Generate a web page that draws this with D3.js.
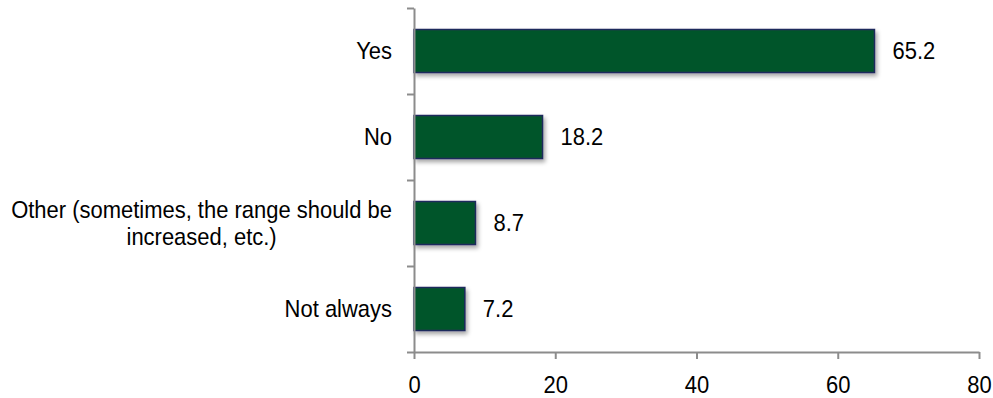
<!DOCTYPE html>
<html><head><meta charset="utf-8">
<script src="https://cdn.jsdelivr.net/npm/d3@7"></script>
<style>body{margin:0;background:#fff}svg{display:block}text{font-family:"Liberation Sans",Arial,sans-serif}</style>
</head><body>
<svg id="c" width="993" height="398"></svg>
<script>
const categories = ["Yes", "No", "Other (sometimes, the range should be|increased, etc.)", "Not always"];
const values = [65.2, 18.2, 8.7, 7.2];
const xTicks = [0, 20, 40, 60, 80];

const svg = d3.select("#c");
const fs = 24;
const sx = 0.915;
const axisColor = "#8c8c8c";
const x = d3.scaleLinear().domain([0, 80]).range([414, 979]);
const y = d3.scaleBand().domain(categories).range([8, 352]).paddingInner(0.5).paddingOuter(0.25);
const yb = d3.scaleLinear().domain([0, categories.length]).range([8, 352]);

const defs = svg.append("defs");
const f = defs.append("filter").attr("id", "sh").attr("x", "-10%").attr("y", "-20%").attr("width", "130%").attr("height", "160%");
f.append("feDropShadow").attr("dx", 2).attr("dy", 3).attr("stdDeviation", 2).attr("flood-color", "#000").attr("flood-opacity", 0.35);

// bars
svg.append("g").selectAll("rect").data(categories).join("rect")
  .attr("x", x(0)).attr("y", d => y(d))
  .attr("width", (d, i) => x(values[i]) - x(0)).attr("height", y.bandwidth())
  .attr("fill", "#04552b").attr("stroke", "#1b2a5c").attr("stroke-width", 1.5)
  .attr("filter", "url(#sh)");

// value labels
svg.append("g").selectAll("text").data(categories).join("text")
  .attr("transform", (d, i) => `translate(${x(values[i]) + 18},${y(d) + y.bandwidth() / 2}) scale(${sx},1)`)
  .attr("dy", "0.35em").attr("font-size", fs).attr("fill", "#000")
  .text((d, i) => values[i].toFixed(1));

// x axis
const gx = svg.append("g").attr("transform", "translate(0,352)")
  .call(d3.axisBottom(x).tickValues(xTicks).tickSizeInner(7).tickSizeOuter(0).tickPadding(17));
gx.select(".domain").attr("stroke", axisColor).attr("stroke-width", 2);
gx.selectAll(".tick line").attr("stroke", axisColor).attr("stroke-width", 2);
gx.selectAll(".tick text").attr("font-size", fs).attr("fill", "#000").attr("font-family", null)
  .attr("transform", `scale(${sx},1)`);

// y axis
const gy = svg.append("g").attr("transform", "translate(414,0)")
  .call(d3.axisLeft(yb).tickValues(d3.range(categories.length + 1)).tickFormat("").tickSizeInner(7).tickSizeOuter(0));
gy.select(".domain").attr("stroke", axisColor).attr("stroke-width", 2);
gy.selectAll(".tick line").attr("stroke", axisColor).attr("stroke-width", 2);

// category labels (lines centred, block right-aligned)
const lh = 27;
const rightEdge = 392;
svg.append("g").selectAll("text").data(categories).join("text")
  .attr("font-size", fs).attr("fill", "#000").attr("text-anchor", "middle")
  .each(function(d) {
    const lines = d.split("|");
    const cy = y(d) + y.bandwidth() / 2;
    const t = d3.select(this);
    lines.forEach((l, k) => {
      t.append("tspan").attr("x", 0)
        .attr("y", (k - (lines.length - 1) / 2) * lh)
        .attr("dy", "0.35em").text(l);
    });
    let w = 0;
    t.selectAll("tspan").each(function() { w = Math.max(w, this.getComputedTextLength()); });
    const cx = rightEdge - (w * sx) / 2;
    t.attr("transform", `translate(${cx},${cy}) scale(${sx},1)`);
  });
</script>
</body></html>
